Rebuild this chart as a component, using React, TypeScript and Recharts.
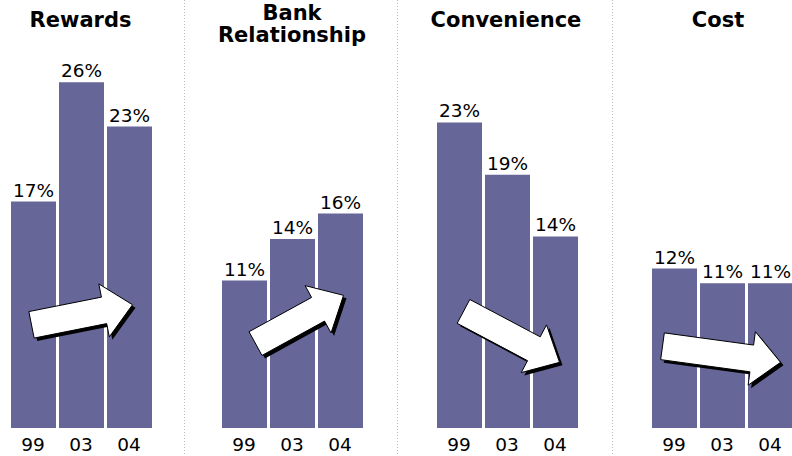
import React from 'react';
import { BarChart, Bar, XAxis, YAxis, LabelList, ReferenceLine } from 'recharts';

// ---- data ----
const years = ['99', '03', '04'];
const rewards = [16.9, 25.8, 22.5];
const bankRelationship = [11.0, 14.1, 16.0];
const convenience = [22.8, 18.9, 14.3];
const cost = [11.9, 10.8, 10.8];
const panelTitles = [['Rewards'], ['Bank', 'Relationship'], ['Convenience'], ['Cost']];
// trend arrows: value at the tail (near '99') and at the tip (near '04')
const trendStart = [7.7, 6.3, 8.7, 6.1];
const trendEnd = [9.2, 9.9, 4.9, 4.9];

const seriesList = [rewards, bankRelationship, convenience, cost];

// ---- layout ----
const W = 792;
const H = 456;
const FONT = '"DejaVu Sans", Verdana, sans-serif';
const BAR_COLOR = '#666699';
const panelLeft = [8.5, 219.5, 434.5, 649.5];
const panelWidth = 144;
const titleCenter = [80.5, 292, 506, 718];
const separators = [184, 397, 612];
const arrowTailDx = [-1.5, 11.5, 4.5, -11.5];
const arrowTipDx = [3.5, 3.5, 4.5, 10.5];

function makeArrow(tailDx: number, tipDx: number) {
  return (p: any) => {
    const x1 = p.x1 + tailDx;
    const y1 = p.y1;
    const x2 = p.x2 + tipDx;
    const y2 = p.y2;
    const dx = x2 - x1;
    const dy = y2 - y1;
    const len = Math.hypot(dx, dy) || 1;
    const ux = dx / len;
    const uy = dy / len;
    const nx = -uy;
    const ny = ux;
    const hw = 13.5;
    const hh = 27;
    const hl = 29;
    const bx = x2 - ux * hl;
    const by = y2 - uy * hl;
    const pts: [number, number][] = [
      [x1 + nx * hw, y1 + ny * hw],
      [bx + nx * hw, by + ny * hw],
      [bx + nx * hh, by + ny * hh],
      [x2, y2],
      [bx - nx * hh, by - ny * hh],
      [bx - nx * hw, by - ny * hw],
      [x1 - nx * hw, y1 - ny * hw],
    ];
    const toStr = (o: number) => pts.map(([a, b]) => `${a + o},${b + o}`).join(' ');
    return (
      <g>
        <polygon points={toStr(3)} fill="#000" />
        <polygon points={toStr(0)} fill="#fff" stroke="#000" strokeWidth={1} />
      </g>
    );
  };
}

function Panel({ idx }: { idx: number }) {
  const values = seriesList[idx];
  const data = years.map((y, i) => ({ year: y, value: values[i] }));
  return (
    <div style={{ position: 'absolute', left: panelLeft[idx], top: 0 }}>
      <BarChart
        width={panelWidth}
        height={H}
        data={data}
        margin={{ top: 26, right: 0, bottom: 0, left: 0 }}
        barSize={45}
      >
        <XAxis
          dataKey="year"
          axisLine={false}
          tickLine={false}
          interval={0}
          height={28}
          tickMargin={4}
          tick={{ fontSize: 18.5, fill: '#000', fontFamily: FONT }}
        />
        <YAxis hide domain={[0, 30]} />
        <Bar dataKey="value" fill={BAR_COLOR} isAnimationActive={false}>
          <LabelList
            dataKey="value"
            position="top"
            offset={5}
            formatter={(v: any) => `${Math.round(Number(v))}%`}
            style={{ fontSize: 18.5, fill: '#000', fontFamily: FONT }}
          />
        </Bar>
        <ReferenceLine
          segment={[
            { x: years[0], y: trendStart[idx] },
            { x: years[2], y: trendEnd[idx] },
          ]}
          ifOverflow="visible"
          zIndex={1500}
          shape={makeArrow(arrowTailDx[idx], arrowTipDx[idx])}
        />
      </BarChart>
    </div>
  );
}

export default function App() {
  return (
    <div
      style={{
        position: 'absolute',
        left: 0,
        top: 0,
        width: W,
        height: H,
        background: '#fff',
        fontFamily: FONT,
        overflow: 'hidden',
      }}
    >
      <svg width={W} height={H} style={{ position: 'absolute', left: 0, top: 0 }}>
        {separators.map((x) => (
          <line key={x} x1={x + 0.5} x2={x + 0.5} y1={0} y2={H} stroke="#bdbdbd" strokeWidth={1} strokeDasharray="1 2" />
        ))}
        {panelTitles.map((lines, i) =>
          lines.map((t, j) => (
            <text
              key={`${i}-${j}`}
              x={titleCenter[i]}
              y={lines.length === 1 ? 27 : 19.5 + j * 22.5}
              textAnchor="middle"
              fontFamily={FONT}
              fontWeight="bold"
              fontSize={21}
              fill="#000"
            >
              {t}
            </text>
          ))
        )}
      </svg>
      {seriesList.map((_, i) => (
        <Panel key={i} idx={i} />
      ))}
    </div>
  );
}
